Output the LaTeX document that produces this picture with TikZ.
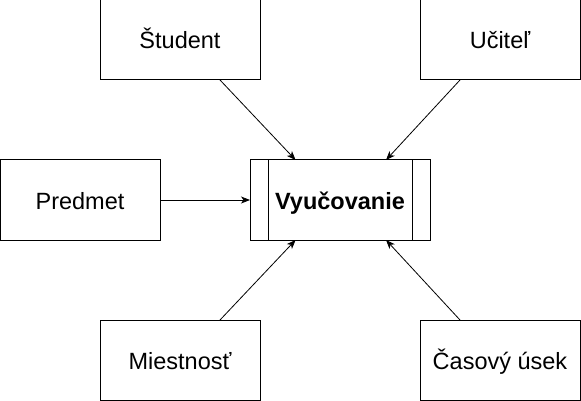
\documentclass[tikz,border=0pt]{standalone}
\usepackage{fontspec}
\setmainfont{Liberation Sans}
\usetikzlibrary{arrows.meta}

\begin{document}
\begin{tikzpicture}[
    x=1pt,y=-1pt,
    box/.style={draw,line width=1pt,minimum width=160pt,minimum height=80pt,inner sep=0pt,outer sep=0pt,text height=22pt,text depth=4pt,font=\fontsize{23.5}{28}\selectfont},
    flow/.style={line width=0.8pt,-{Stealth[length=9pt,width=7pt,inset=2.5pt]}}
    ]
    \useasboundingbox (0,0) rectangle (581,401);
    \node[box] (stud) at (180,40) {Študent};
    \node[box] (ucit) at (500,40) {Učiteľ};
    \node[box] (pred) at (80,200) {Predmet};
    \node[box,minimum width=180pt,font=\fontsize{23.5}{28}\selectfont\bfseries] (vyuc) at (340,200) {Vyučovanie};
    \node[box] (miest) at (180,360) {Miestnosť};
    \node[box] (cas) at (500,360) {Časový úsek};
    \draw[line width=1pt] ([xshift=18pt]vyuc.north west) -- ([xshift=18pt]vyuc.south west);
    \draw[line width=1pt] ([xshift=-18pt]vyuc.north east) -- ([xshift=-18pt]vyuc.south east);
    \draw[flow] (stud.-45) -- (vyuc.138.37);
    \draw[flow] (ucit.-135) -- (vyuc.41.63);
    \draw[flow] (pred.east) -- (vyuc.west);
    \draw[flow] (miest.45) -- (vyuc.-138.37);
    \draw[flow] (cas.135) -- (vyuc.-41.63);
\end{tikzpicture}
\end{document}
